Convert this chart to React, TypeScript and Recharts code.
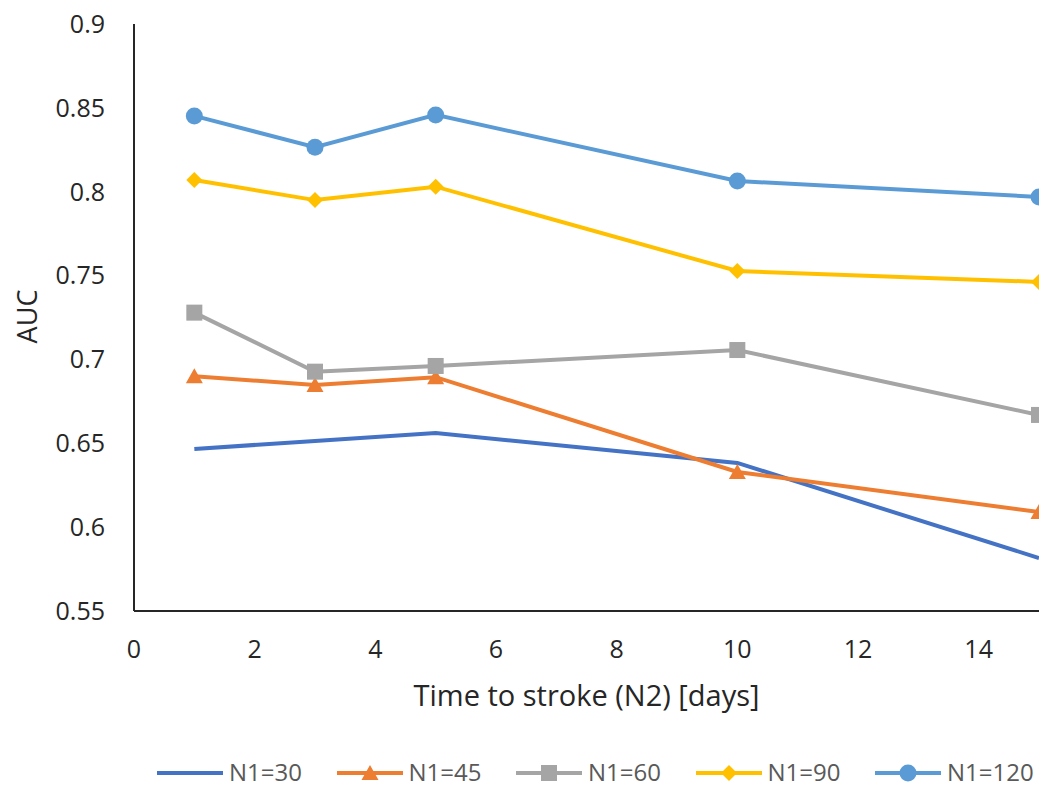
import React from "react";
import { LineChart, Line, XAxis, YAxis, Legend } from "recharts";

const days = [1, 3, 5, 10, 15];
const n30 = [0.6466, 0.6514, 0.6561, 0.6383, 0.5816];
const n45 = [0.690, 0.6848, 0.6894, 0.6329, 0.609];
const n60 = [0.7279, 0.6927, 0.6961, 0.7056, 0.6669];
const n90 = [0.807, 0.795, 0.803, 0.7527, 0.7462];
const n120 = [0.8452, 0.8265, 0.8458, 0.8064, 0.7969];

const xTicks = [0, 2, 4, 6, 8, 10, 12, 14];
const yTicks = [0.55, 0.6, 0.65, 0.7, 0.75, 0.8, 0.85, 0.9];

const seriesNames = ["N1=30", "N1=45", "N1=60", "N1=90", "N1=120"];
const seriesKeys = ["n30", "n45", "n60", "n90", "n120"];
const seriesColors = ["#4472C4", "#ED7D31", "#A5A5A5", "#FFC000", "#5B9BD5"];
const seriesMarkers = ["none", "triangle", "square", "diamond", "circle"];

const data = days.map((d, i) => ({
  day: d,
  n30: n30[i],
  n45: n45[i],
  n60: n60[i],
  n90: n90[i],
  n120: n120[i],
}));

const FONT = "'Open Sans', sans-serif";
const TEXT = "#262626";

function MarkerShape({ kind, cx, cy, color }: { kind: string; cx: number; cy: number; color: string }) {
  if (kind === "circle") return <circle cx={cx} cy={cy} r={8.5} fill={color} />;
  if (kind === "square") return <rect x={cx - 8} y={cy - 8} width={16} height={16} fill={color} />;
  if (kind === "diamond")
    return <polygon points={`${cx},${cy - 8} ${cx + 8},${cy} ${cx},${cy + 8} ${cx - 8},${cy}`} fill={color} />;
  if (kind === "triangle")
    return <polygon points={`${cx},${cy - 8} ${cx + 8.5},${cy + 7} ${cx - 8.5},${cy + 7}`} fill={color} />;
  return null;
}

function makeDot(kind: string, color: string) {
  if (kind === "none") return false;
  return (props: any) => {
    const { cx, cy, index } = props;
    if (cx == null || cy == null) return <g key={index} />;
    return (
      <g key={`${kind}-${index}`}>
        <MarkerShape kind={kind} cx={cx} cy={cy} color={color} />
      </g>
    );
  };
}

function CustomLegend() {
  return (
    <div style={{ position: "relative", width: 1046, height: 30 }}>
      {seriesNames.map((name, i) => {
        const left = 157 + i * 179.5;
        return (
          <div
            key={name}
            style={{ position: "absolute", left, top: 1, height: 26, display: "flex", alignItems: "center" }}
          >
            <svg width={66} height={24} style={{ display: "block", marginTop: 3 }}>
              <line x1={0} y1={12} x2={66} y2={12} stroke={seriesColors[i]} strokeWidth={4} />
              <MarkerShape kind={seriesMarkers[i]} cx={33} cy={12} color={seriesColors[i]} />
            </svg>
            <span
              style={{
                marginLeft: 6,
                fontFamily: FONT,
                fontSize: 24,
                color: "#595959",
                whiteSpace: "nowrap",
              }}
            >
              {name}
            </span>
          </div>
        );
      })}
    </div>
  );
}

function YLabel(props: any) {
  const vb = props.viewBox || {};
  const cy = vb.y + vb.height / 2 - 1;
  const cx = 26;
  return (
    <text
      x={cx}
      y={cy}
      transform={`rotate(-90, ${cx}, ${cy})`}
      textAnchor="middle"
      dominantBaseline="central"
      fontFamily={FONT}
      fontSize={27}
      fill={TEXT}
    >
      AUC
    </text>
  );
}

export default function App() {
  return (
    <div style={{ width: 1046, height: 787, background: "#fff" }}>
      <style>{`body{margin:0;}`}</style>
      <LineChart width={1046} height={787} data={data} margin={{ top: 24, right: 7, left: 0, bottom: 0 }}>
        <XAxis
          dataKey="day"
          type="number"
          domain={[0, 15]}
          ticks={xTicks}
          interval={0}
          allowDataOverflow
          height={146}
          tickLine={false}
          tickSize={0}
          tickMargin={29}
          axisLine={{ stroke: "#262626", strokeWidth: 2 }}
          tick={{ fontFamily: FONT, fontSize: 25, fill: TEXT }}
          label={{
            value: "Time to stroke (N2) [days]",
            position: "insideBottom",
            offset: 51,
            style: { fontFamily: FONT, fontSize: 29, fill: TEXT, textAnchor: "middle" },
          }}
        />
        <YAxis
          type="number"
          domain={[0.55, 0.9]}
          ticks={yTicks}
          interval={0}
          allowDataOverflow
          width={134}
          tickLine={false}
          tickSize={0}
          tickMargin={29}
          axisLine={{ stroke: "#262626", strokeWidth: 2 }}
          tick={{ fontFamily: FONT, fontSize: 25, fill: TEXT }}
          label={<YLabel />}
        />
        <Legend verticalAlign="bottom" align="left" height={30} content={() => <CustomLegend />} />
        {seriesKeys.map((k, i) => (
          <Line
            key={k}
            type="linear"
            dataKey={k}
            name={seriesNames[i]}
            stroke={seriesColors[i]}
            strokeWidth={4}
            dot={makeDot(seriesMarkers[i], seriesColors[i]) as any}
            activeDot={false}
            isAnimationActive={false}
          />
        ))}
      </LineChart>
    </div>
  );
}
